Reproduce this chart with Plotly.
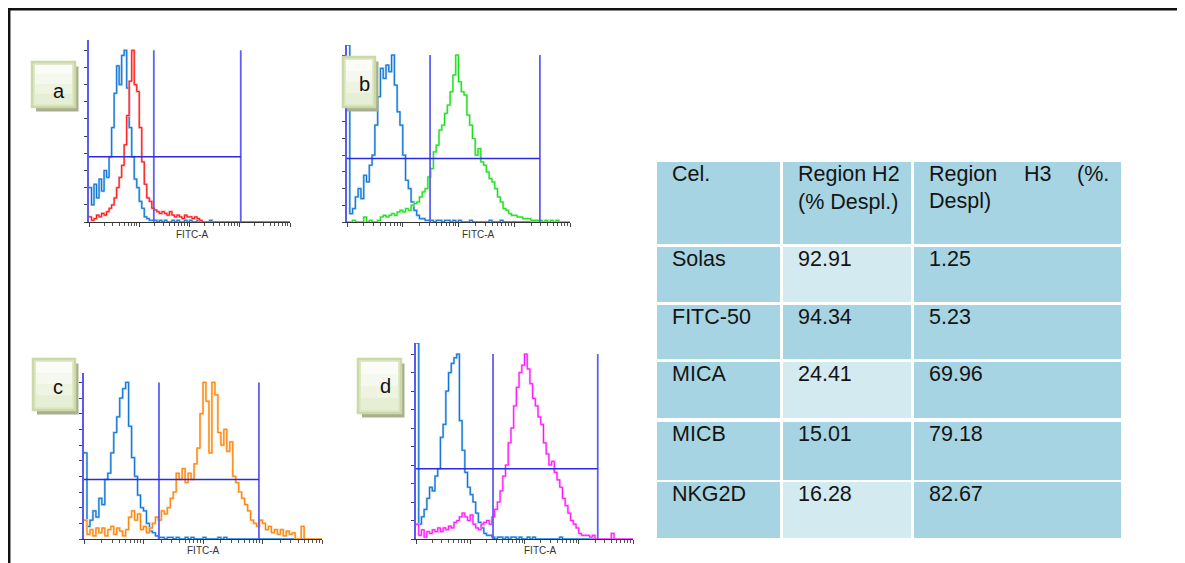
import math
import plotly.graph_objects as go

# page body adds an 8px margin; the figure fills the rest of the window
OFF = 8
W, H = 1185 - OFF, 563 - OFF

# ---------------- data ----------------
# log10 fluorescence channels (FITC-A, decades)
channels = [0.00, 0.05, 0.10, 0.15, 0.20, 0.25, 0.30, 0.35, 0.40, 0.45,
            0.50, 0.55, 0.60, 0.65, 0.70, 0.75, 0.80, 0.85, 0.90, 0.95,
            1.00, 1.05, 1.10, 1.15, 1.20, 1.25, 1.30, 1.35, 1.40, 1.45,
            1.50, 1.55, 1.60, 1.65, 1.70, 1.75, 1.80, 1.85, 1.90, 1.95,
            2.00, 2.05, 2.10, 2.15, 2.20, 2.25, 2.30, 2.35, 2.40, 2.45,
            2.50, 2.55, 2.60, 2.65, 2.70, 2.75, 2.80, 2.85, 2.90, 2.95,
            3.00, 3.05, 3.10, 3.15, 3.20, 3.25, 3.30, 3.35, 3.40, 3.45,
            3.50, 3.55, 3.60, 3.65, 3.70, 3.75, 3.80, 3.85, 3.90, 3.95,
            4.00]

# counts (% of panel max); channels not listed are empty
a_control = [20, 10, 22, 14, 25, 18, 30, 26, 38, 55,
             75, 91, 80, 97, 100, 78, 55, 38, 25, 20,
             12, 8, 3, 2, 1, 1, 1, 0, 1, 0,
             1, 0, 0, 1, 0, 1, 0, 0, 1, 0,
             1, 0, 0, 1, 0, 0, 0, 0, 1]
a_sample = [3, 1, 2, 4, 3, 5, 4, 6, 8, 10,
            14, 20, 26, 33, 45, 62, 82, 100, 80, 76,
            55, 35, 22, 14, 12, 8, 7, 6, 5, 6,
            5, 4, 6, 4, 3, 4, 3, 2, 4, 3,
            3, 2, 3, 2, 1]

b_control = [106, 5, 8, 15, 20, 14, 28, 24, 34, 40,
             58, 75, 92, 86, 94, 90, 100, 82, 66, 58,
             40, 25, 20, 12, 7, 4, 2, 2, 1, 1,
             1, 0, 1, 1, 0, 1, 1, 0, 1, 0,
             1, 0, 0, 0, 1, 0, 0, 0, 0, 0,
             0, 1, 0, 0, 0, 1]
b_sample = [0, 0, 1, 0, 0, 0, 3, 0, 1, 0,
            0, 1, 3, 4, 3, 4, 5, 4, 6, 7,
            6, 8, 7, 10, 11, 12, 15, 18, 20, 27,
            32, 42, 46, 55, 58, 65, 70, 78, 88, 100,
            84, 78, 76, 64, 58, 50, 40, 44, 36, 34,
            30, 26, 24, 20, 15, 12, 8, 7, 5, 4,
            4, 3, 3, 2, 2, 2, 1, 1, 1, 1,
            0, 1, 0, 1, 0, 1, 0]

c_control = [55, 8, 12, 18, 14, 26, 22, 38, 42, 55,
             68, 78, 90, 96, 100, 72, 52, 40, 28, 20,
             18, 10, 5, 4, 2, 1, 1, 0, 1, 1,
             0, 1, 0, 0, 1, 0, 1, 0, 0, 0,
             1, 0, 0, 0, 0, 1, 0, 1]
c_sample = [12, 3, 6, 2, 7, 4, 7, 2, 6, 8,
            3, 7, 5, 2, 6, 14, 18, 12, 16, 6,
            8, 4, 7, 10, 14, 12, 18, 16, 20, 26,
            30, 42, 38, 45, 36, 42, 38, 48, 58, 80,
            100, 88, 55, 100, 92, 68, 60, 70, 56, 62,
            40, 36, 30, 26, 22, 18, 12, 10, 8, 12,
            10, 6, 8, 4, 6, 3, 6, 2, 5, 3,
            4, 0, 0, 8, 0]

d_control = [106, 8, 12, 16, 22, 28, 26, 34, 38, 55,
             62, 80, 90, 95, 98, 100, 64, 48, 36, 28,
             24, 20, 14, 9, 6, 3, 2, 2, 1, 0,
             1, 1, 0, 1, 0, 1, 1, 0, 1, 0,
             0, 1, 0, 1, 0, 0, 0, 0, 0, 0,
             0, 0, 0, 1]
d_sample = [8, 2, 5, 1, 4, 3, 5, 4, 6, 4,
            6, 5, 7, 6, 9, 10, 12, 14, 12, 10,
            13, 8, 6, 5, 8, 9, 10, 8, 12, 16,
            20, 26, 34, 40, 52, 60, 72, 82, 90, 94,
            100, 92, 84, 76, 72, 66, 62, 52, 46, 40,
            42, 36, 32, 28, 22, 18, 14, 10, 8, 6,
            3, 2, 2, 2, 1, 2, 0, 0, 0, 0,
            0, 0, 3, 0]

panel_labels = ["a", "b", "c", "d"]
gate_low = [1.29, 1.49, 1.26, 1.42]     # H2 / H3 boundary
gate_high = [3.02, 3.46, 2.94, 3.35]    # H3 upper limit
gate_level = [38, 38, 38, 38]

table_header = ["Cel.", "Region H2<br>(% Despl.)", "Region H3 (%.<br>Despl)"]
cell_names = ["Solas", "FITC-50", "MICA", "MICB", "NKG2D"]
region_h2 = [92.91, 94.34, 24.41, 15.01, 16.28]
region_h3 = [1.25, 5.23, 69.96, 79.18, 82.67]

# ---------------- layout helpers (screen px -> paper) ----------------
def fx(px):
    return (px - OFF) / W

def fy(py):
    return 1 - (py - OFF) / H

controls = [a_control, b_control, c_control, d_control]
samples = [a_sample, b_sample, c_sample, d_sample]
sample_colors = ["#ff1010", "#16dc16", "#ff8000", "#ff10ff"]
sample_light = ["#ff9a9a", "#9af09a", "#ffc48a", "#ff9cff"]
blue_dark, blue_light = "#0a72d2", "#8ec0ee"

panel_px = [(89, 290, 40, 222), (347, 570, 45, 222), (84, 322, 373, 539), (416, 633, 343, 539)]
label_px = [(32, 75, 62, 107), (343, 375, 57, 107), (33, 75, 359, 410), (358, 401, 359, 413)]
letter_px = [(59, 91), (364, 84), (58, 387), (385, 386)]
fitc_px = [(192, 234), (478, 234), (203, 550), (540, 550)]
box_gradient = ["#fbfcf8", "#f5f8ee", "#eef3e2", "#e6eed5"]

def pad(vals):
    return list(vals) + [0] * (len(channels) - len(vals))

fig = go.Figure()
shapes = []
annotations = []

major_ticks = [0, 1, 2, 3, 4]
minor_ticks = [d + math.log10(m) for d in range(4) for m in range(2, 10)]

for i in range(4):
    xa = "x" if i == 0 else f"x{i+1}"
    ya = "y" if i == 0 else f"y{i+1}"
    for vals, light, dark in [(controls[i], blue_light, blue_dark),
                              (samples[i], sample_light[i], sample_colors[i])]:
        yv = pad(vals)
        fig.add_trace(go.Scatter(x=channels, y=yv, mode="lines", xaxis=xa, yaxis=ya,
                                 line=dict(color=light, width=2.2, shape="hv"),
                                 hoverinfo="skip", showlegend=False))
        fig.add_trace(go.Scatter(x=channels, y=yv, mode="lines", xaxis=xa, yaxis=ya,
                                 line=dict(color=dark, width=1, shape="hv"),
                                 showlegend=False))
    x0, x1, y0, y1 = panel_px[i]
    axname = "xaxis" if i == 0 else f"xaxis{i+1}"
    ayname = "yaxis" if i == 0 else f"yaxis{i+1}"
    fig.update_layout({
        axname: dict(domain=[fx(x0), fx(x1)], anchor=ya, range=[0, 4],
                     showline=True, linecolor="#333333", linewidth=1,
                     ticks="outside", tickvals=major_ticks, ticklen=4, tickcolor="#444444",
                     minor=dict(tickvals=minor_ticks, ticks="outside", ticklen=3, tickcolor="#555555"),
                     showticklabels=False, showgrid=False, zeroline=False, fixedrange=True),
        ayname: dict(domain=[fy(y1), fy(y0)], anchor=xa, range=[0, 106],
                     showline=True, linecolor="#5a5af2", linewidth=2,
                     ticks="outside", tickvals=list(range(0, 101, 10)), ticklen=3, tickcolor="#444444",
                     showticklabels=False, showgrid=False, zeroline=False, fixedrange=True),
    })
    vgate = dict(color="#5f5ff2", width=1.8)
    hgate = dict(color="#2a2ae2", width=1.5)
    shapes.append(dict(type="line", xref=xa, yref=ya, x0=gate_low[i], x1=gate_low[i], y0=0, y1=100, line=vgate))
    shapes.append(dict(type="line", xref=xa, yref=ya, x0=gate_high[i], x1=gate_high[i], y0=0, y1=100, line=vgate))
    shapes.append(dict(type="line", xref=xa, yref=ya, x0=0, x1=gate_high[i], y0=gate_level[i], y1=gate_level[i], line=hgate))

    # panel label box with shadow and soft gradient
    bx0, bx1, by0, by1 = label_px[i]
    shapes.append(dict(type="rect", xref="paper", yref="paper", x0=fx(bx0 + 4), x1=fx(bx1 + 3.5),
                       y0=fy(by1 + 4.5), y1=fy(by0 + 4.5), fillcolor="#a9ae8e", line=dict(width=0), layer="above"))
    shapes.append(dict(type="rect", xref="paper", yref="paper", x0=fx(bx0), x1=fx(bx1),
                       y0=fy(by1), y1=fy(by0), fillcolor="#dfe8c8", line=dict(color="#cad9a6", width=2.5), layer="above"))
    ix0, ix1, iy0, iy1 = bx0 + 3, bx1 - 3, by0 + 3, by1 - 3
    n = len(box_gradient)
    for k, col in enumerate(box_gradient):
        sy0 = iy0 + (iy1 - iy0) * k / n
        sy1 = iy0 + (iy1 - iy0) * (k + 1) / n
        shapes.append(dict(type="rect", xref="paper", yref="paper", x0=fx(ix0), x1=fx(ix1),
                           y0=fy(sy1), y1=fy(sy0), fillcolor=col, line=dict(width=0), layer="above"))
    lx, ly = letter_px[i]
    annotations.append(dict(x=fx(lx), y=fy(ly), xref="paper", yref="paper", text=panel_labels[i],
                            showarrow=False, xanchor="center", yanchor="middle",
                            font=dict(family="Liberation Sans, Arial", size=20, color="#111111")))
    tx, ty = fitc_px[i]
    annotations.append(dict(x=fx(tx), y=fy(ty), xref="paper", yref="paper", text="FITC-A",
                            showarrow=False, xanchor="center", yanchor="middle",
                            font=dict(family="Liberation Sans, Arial", size=10, color="#333333")))

# ---------------- table ----------------
col_px = [(657, 780), (783, 911), (914, 1121)]
row_px = [(162, 244), (247, 302), (305, 359), (362, 418), (422, 480), (482, 538)]
cell_blue, cell_light = "#a6d4e2", "#d3eaf1"
tfont = dict(family="Liberation Sans, Arial", size=21.5, color="#141414")

rows = [table_header] + [[n, f"{h2:.2f}", f"{h3:.2f}"] for n, h2, h3 in zip(cell_names, region_h2, region_h3)]
for r, (ry0, ry1) in enumerate(row_px):
    for c, (cx0, cx1) in enumerate(col_px):
        fill = cell_light if (c == 1 and r in (1, 3, 5)) else cell_blue
        shapes.append(dict(type="rect", xref="paper", yref="paper", x0=fx(cx0), x1=fx(cx1),
                           y0=fy(ry1), y1=fy(ry0), fillcolor=fill, line=dict(width=0), layer="below"))
        text = rows[r][c]
        if r == 0 and c == 2:
            words = text.split("<br>")[0].split(" ")
            annotations.append(dict(x=fx(cx0 + 13), y=fy(ry0 - 2), xref="paper", yref="paper", text=words[0],
                                    showarrow=False, xanchor="left", yanchor="top", font=tfont))
            annotations.append(dict(x=fx(1022), y=fy(ry0 - 2), xref="paper", yref="paper", text=words[1],
                                    showarrow=False, xanchor="left", yanchor="top", font=tfont))
            annotations.append(dict(x=fx(cx1 - 10), y=fy(ry0 - 2), xref="paper", yref="paper", text=words[2],
                                    showarrow=False, xanchor="right", yanchor="top", font=tfont))
            annotations.append(dict(x=fx(cx0 + 13), y=fy(ry0 + 25), xref="paper", yref="paper",
                                    text=text.split("<br>")[1],
                                    showarrow=False, xanchor="left", yanchor="top", font=tfont))
        else:
            annotations.append(dict(x=fx(cx0 + 13), y=fy(ry0 - 2), xref="paper", yref="paper", text=text,
                                    showarrow=False, xanchor="left", yanchor="top", align="left", font=tfont))

# ---------------- frame ----------------
shapes.append(dict(type="line", xref="paper", yref="paper", x0=fx(7), x1=fx(1185), y0=fy(9.2), y1=fy(9.2),
                   line=dict(color="#111111", width=2.5)))
shapes.append(dict(type="line", xref="paper", yref="paper", x0=fx(9.2), x1=fx(9.2), y0=fy(8), y1=fy(563),
                   line=dict(color="#111111", width=2.5)))

fig.update_layout(width=W, height=H, margin=dict(l=0, r=0, t=0, b=0),
                  paper_bgcolor="white", plot_bgcolor="rgba(0,0,0,0)",
                  shapes=shapes, annotations=annotations, showlegend=False)

fig.write_html("out.html")
